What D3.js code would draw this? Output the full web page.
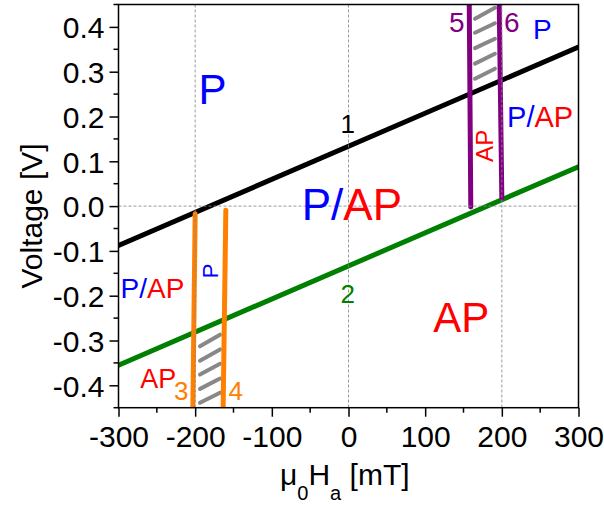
<!DOCTYPE html>
<html>
<head>
<meta charset="utf-8">
<script src="https://cdn.jsdelivr.net/npm/d3@7"></script>
<style>
  html, body { margin: 0; padding: 0; background: #fff; }
  svg { display: block; font-family: "Liberation Sans", Arial, sans-serif; }
</style>
</head>
<body>
<svg id="chart" width="604" height="505"></svg>
<script>
// ---------- data ----------
const xTicks = [-300, -200, -100, 0, 100, 200, 300];
const xMinorTicks = [-250, -150, -50, 50, 150, 250];
const yTicks = [-0.4, -0.3, -0.2, -0.1, 0.0, 0.1, 0.2, 0.3, 0.4];
const yMinorTicks = [-0.45, -0.35, -0.25, -0.15, -0.05, 0.05, 0.15, 0.25, 0.35, 0.45];
const gridX = [-200, 0, 200];
const gridY = [0];

// line 1 (black) and line 2 (green)
const line1H = [-300, 300];
const line1V = [-0.088, 0.355];
const line2H = [-300, 300];
const line2V = [-0.355, 0.088];
// switching lines 3,4 (orange) and 5,6 (purple)
const line3H = [-203, -200];
const line3V = [-0.45, -0.017];
const line4H = [-163.5, -160];
const line4V = [-0.45, -0.009];
const line5H = [157.5, 159.5];
const line5V = [0.45, -0.002];
const line6H = [196.6, 200];
const line6V = [0.45, 0.018];

// hatch strokes (lower, between lines 3 and 4)
const hatchLowH = [-193.7, -167.6];
const hatchLowLeftV = [-0.313, -0.345, -0.376, -0.408, -0.439];
const hatchLowRightV = [-0.287, -0.320, -0.352, -0.385, -0.4165];
// hatch strokes (upper, between lines 5 and 6)
const hatchUpH = [165, 191];
const hatchUpLeftV = [0.418, 0.387, 0.3526, 0.318, 0.2844];
const hatchUpRightV = [0.4425, 0.408, 0.3735, 0.340, 0.3067];

// ---------- setup ----------
const svg = d3.select("#chart");
const x = d3.scaleLinear().domain([-300, 300]).range([118.5, 578.5]);
const y = d3.scaleLinear().domain([-0.45, 0.45]).range([407.7, 4.5]);

const BLUE = "#0000ff", RED = "#ff0000", ORANGE = "#ff8000", PURPLE = "#800080",
      GREEN = "#008000", GRAY = "#888888";

svg.append("defs").append("clipPath").attr("id", "plotclip")
  .append("rect")
  .attr("x", x(-300)).attr("y", y(0.45))
  .attr("width", x(300) - x(-300)).attr("height", y(-0.45) - y(0.45));

const plot = svg.append("g").attr("clip-path", "url(#plotclip)");

const lineGen = d3.line().x(d => x(d[0])).y(d => y(d[1]));
function drawLine(H, V, color, w) {
  plot.append("path")
    .datum(H.map((h, i) => [h, V[i]]))
    .attr("d", lineGen)
    .attr("fill", "none")
    .attr("stroke", color)
    .attr("stroke-width", w)
    .attr("stroke-linecap", "round");
}

// hatches
function drawHatch(Hs, Lv, Rv) {
  Lv.forEach((lv, i) => {
    plot.append("path")
      .datum([[Hs[0], lv], [Hs[1], Rv[i]]])
      .attr("d", lineGen)
      .attr("fill", "none")
      .attr("stroke", GRAY)
      .attr("stroke-width", 4)
      .attr("stroke-linecap", "round");
  });
}
drawHatch(hatchLowH, hatchLowLeftV, hatchLowRightV);
drawHatch(hatchUpH, hatchUpLeftV, hatchUpRightV);

drawLine(line1H, line1V, "#000", 5);
drawLine(line2H, line2V, GREEN, 5);
drawLine(line3H, line3V, ORANGE, 5);
drawLine(line4H, line4V, ORANGE, 5);
drawLine(line5H, line5V, PURPLE, 5);
drawLine(line6H, line6V, PURPLE, 5);

// grid (dashed, on top)
gridX.forEach(g => {
  svg.append("line")
    .attr("x1", x(g)).attr("x2", x(g))
    .attr("y1", y(0.45)).attr("y2", y(-0.45))
    .attr("stroke", GRAY).attr("stroke-width", 1)
    .attr("stroke-dasharray", "3,2").attr("opacity", 0.85);
});
gridY.forEach(g => {
  svg.append("line")
    .attr("x1", x(-300)).attr("x2", x(300))
    .attr("y1", y(g)).attr("y2", y(g))
    .attr("stroke", GRAY).attr("stroke-width", 1)
    .attr("stroke-dasharray", "3,2").attr("opacity", 0.85);
});

// ---------- axes ----------
const axisFont = 30;
const hyphen = s => s.replace(/\u2212/g, "-");
const xAxis = svg.append("g").attr("transform", `translate(0,${y(-0.45)})`)
  .call(d3.axisBottom(x).tickValues(xTicks).tickSize(9).tickSizeOuter(0).tickPadding(9)
    .tickFormat(d => hyphen(d3.format("d")(d))));
xAxis.append("g").call(g => {
  xMinorTicks.forEach(t => g.append("line").attr("x1", x(t)).attr("x2", x(t))
    .attr("y1", 0).attr("y2", 5).attr("stroke", "#000").attr("stroke-width", 1.5));
});
const yAxis = svg.append("g").attr("transform", `translate(${x(-300)},0)`)
  .call(d3.axisLeft(y).tickValues(yTicks).tickSize(9).tickSizeOuter(0).tickPadding(5)
    .tickFormat(d => hyphen(d3.format(".1f")(d))));
yAxis.append("g").call(g => {
  yMinorTicks.forEach(t => g.append("line").attr("y1", y(t)).attr("y2", y(t))
    .attr("x1", 0).attr("x2", -5).attr("stroke", "#000").attr("stroke-width", 1.5));
});
[xAxis, yAxis].forEach(a => {
  a.selectAll("path.domain").remove();
  a.selectAll(".tick line").attr("stroke", "#000").attr("stroke-width", 1.5);
  a.selectAll(".tick text").attr("font-size", axisFont)
    .attr("font-family", "Liberation Sans, Arial, sans-serif").attr("fill", "#000");
});
yAxis.selectAll(".tick text").attr("dy", "0.36em");
xAxis.selectAll(".tick text").attr("dy", "0.71em");

// frame
svg.append("rect")
  .attr("x", x(-300)).attr("y", y(0.45))
  .attr("width", x(300) - x(-300)).attr("height", y(-0.45) - y(0.45))
  .attr("fill", "none").attr("stroke", "#000").attr("stroke-width", 1.5);

// axis titles
const xt = svg.append("text").attr("x", 280).attr("y", 485)
  .attr("font-size", 30).attr("fill", "#000");
xt.append("tspan").text("\u03bc");
xt.append("tspan").attr("font-size", 20).attr("dy", 15).text("0");
xt.append("tspan").attr("dy", -15).text("H");
xt.append("tspan").attr("font-size", 20).attr("dy", 15).text("a");
xt.append("tspan").attr("dy", -15).text("\u00a0[mT]");

svg.append("text")
  .attr("transform", `translate(42,216) rotate(-90)`)
  .attr("text-anchor", "middle").attr("font-size", 30).attr("fill", "#000")
  .text("Voltage [V]");

// ---------- annotations ----------
function label(h, v, parts, size, opts = {}) {
  const t = svg.append("text").attr("font-size", size)
    .attr("text-anchor", opts.anchor || "start");
  if (opts.rotate) {
    t.attr("transform", `translate(${x(h)},${y(v)}) rotate(-90)`);
  } else {
    t.attr("x", x(h)).attr("y", y(v));
  }
  parts.forEach(p => t.append("tspan").attr("fill", p[1]).text(p[0]));
  return t;
}
label(-195.6, 0.227, [["P", BLUE]], 42);
label(-1, 0.1626, [["1", "#000"]], 26, { anchor: "middle" });
label(-61, -0.031, [["P/", BLUE], ["AP", RED]], 44);
label(-1, -0.2155, [["2", GREEN]], 26, { anchor: "middle" });
label(110.6, -0.28, [["AP", RED]], 42);
label(-297.4, -0.2056, [["P/", BLUE], ["AP", RED]], 28);
label(-169.8, -0.161, [["P", BLUE]], 22, { rotate: true });
label(-271.5, -0.406, [["AP", RED]], 27);
label(-227.5, -0.432, [["3", ORANGE]], 26);
label(-156.4, -0.432, [["4", ORANGE]], 26);
label(131, 0.388, [["5", PURPLE]], 28);
label(202.8, 0.388, [["6", PURPLE]], 28);
label(240.6, 0.3735, [["P", BLUE]], 28);
label(206.9, 0.1766, [["P/", BLUE], ["AP", RED]], 29);
label(188.9, 0.0987, [["AP", RED]], 24, { rotate: true });
</script>
</body>
</html>
